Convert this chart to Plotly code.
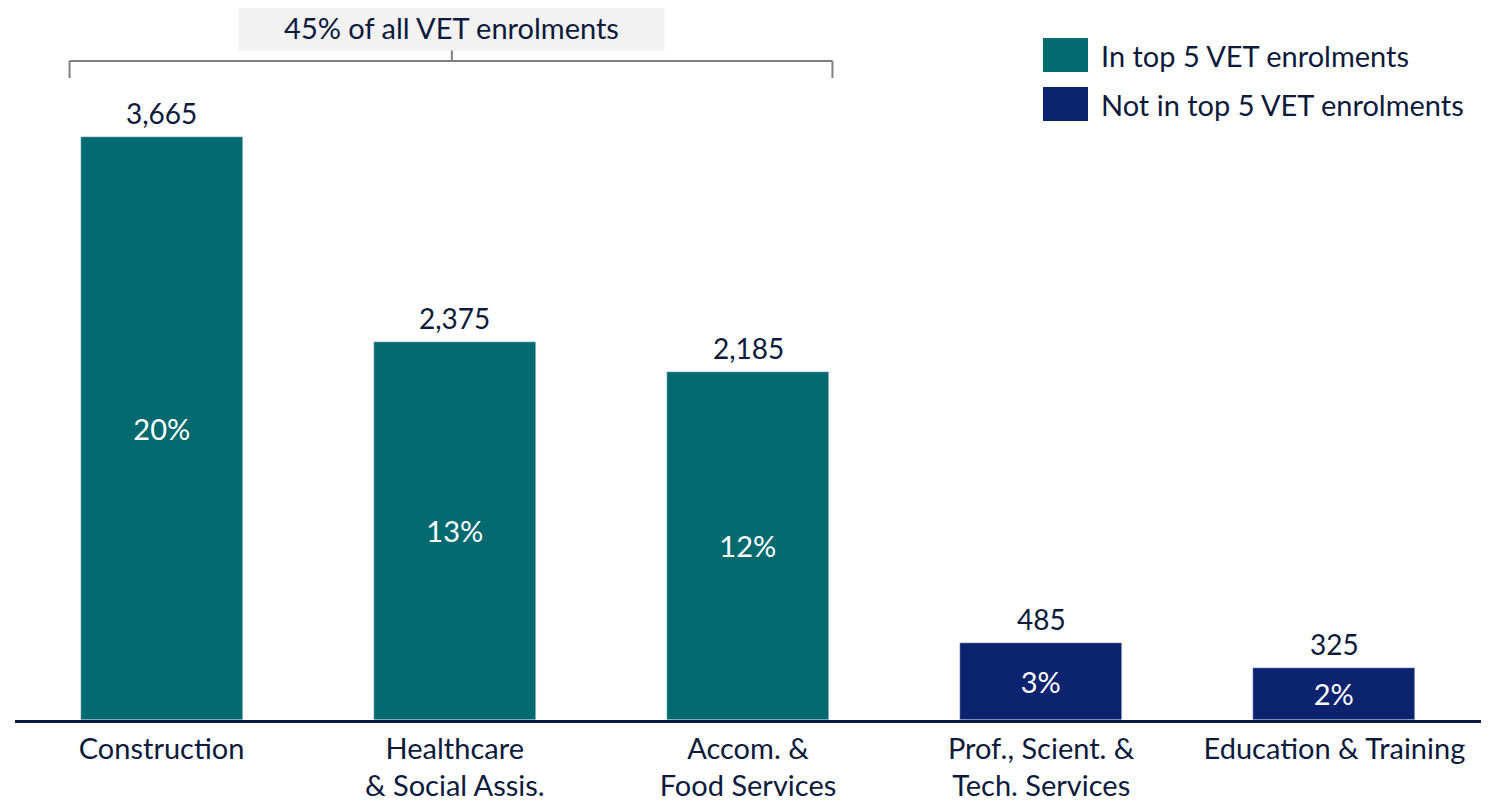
import plotly.graph_objects as go

# data
categories = ["Construction", "Healthcare<br>& Social Assis.", "Accom. &<br>Food Services",
              "Prof., Scient. &<br>Tech. Services", "Education & Training"]
enrolments = [3665, 2375, 2185, 485, 325]
shares = ["20%", "13%", "12%", "3%", "2%"]
in_top5 = [True, True, True, False, False]

TEAL = "#006A6F"
NAVY = "#0C236F"
TEXT = "#0C1A3C"
FONT = "Lato"
FS = 29

# page geometry (the html body adds an 8px margin)
OFF = 8
PLOT_L, PLOT_R, PLOT_T, PLOT_B = 15, 1481, 8, 720


def py(page_y):
    return 1 - (page_y - PLOT_T) / (PLOT_B - PLOT_T)


def px(page_x):
    return (page_x - PLOT_L) / (PLOT_R - PLOT_L)


colors = [TEAL if t else NAVY for t in in_top5]

fig = go.Figure()

fig.add_trace(go.Bar(
    x=categories,
    y=enrolments,
    marker_color=colors,
    width=0.553,
    text=shares,
    textposition="inside",
    insidetextanchor="middle",
    textangle=0,
    textfont=dict(color="white", size=FS, family=FONT),
    showlegend=False,
    hoverinfo="skip",
))

# value labels above each bar
for cat, val in zip(categories, enrolments):
    fig.add_annotation(x=cat, y=val, text=f"{val:,}", showarrow=False,
                       yanchor="bottom", yshift=5,
                       font=dict(size=FS - 1, color=TEXT, family=FONT))

# bracket over the top-5 bars
x_left, x_right, x_mid = -0.314, 2.288, 0.99
grey = dict(color="#7F7F7F", width=2)
shapes = [
    dict(type="line", xref="x", yref="paper", x0=x_left, x1=x_right, y0=py(61), y1=py(61), line=grey),
    dict(type="line", xref="x", yref="paper", x0=x_left, x1=x_left, y0=py(61), y1=py(78), line=grey),
    dict(type="line", xref="x", yref="paper", x0=x_right, x1=x_right, y0=py(61), y1=py(78), line=grey),
    dict(type="line", xref="x", yref="paper", x0=x_mid, x1=x_mid, y0=py(61), y1=py(50), line=grey),
]
fig.add_annotation(x=x_mid, xref="x", y=py(27.5), yref="paper", yanchor="middle",
                   text="45% of all VET enrolments", showarrow=False,
                   bgcolor="#F2F2F2", width=423, height=43,
                   font=dict(size=FS, color=TEXT, family=FONT))

# legend drawn by hand
legend = [("In top 5 VET enrolments", TEAL, 38), ("Not in top 5 VET enrolments", NAVY, 87)]
for label, col, top in legend:
    shapes.append(dict(type="rect", xref="paper", yref="paper",
                       x0=px(1043), x1=px(1088), y0=py(top), y1=py(top + 34),
                       fillcolor=col, line=dict(width=0)))
    fig.add_annotation(xref="paper", yref="paper", x=px(1099), y=py(top + 17),
                       xanchor="left", yanchor="middle", text=label, showarrow=False,
                       font=dict(size=FS, color=TEXT, family=FONT))

fig.update_layout(
    shapes=shapes,
    width=1493 - OFF, height=804 - OFF,
    margin=dict(l=PLOT_L - OFF, r=1493 - PLOT_R, t=PLOT_T - OFF, b=804 - PLOT_B),
    plot_bgcolor="white",
    paper_bgcolor="white",
    font=dict(family=FONT, color=TEXT),
    xaxis=dict(
        range=[-0.5, 4.5],
        showline=True, linecolor="#0A1540", linewidth=2.5,
        showgrid=False, ticks="",
        ticklabelstandoff=1,
        automargin=False,
        tickfont=dict(size=FS, color=TEXT, family=FONT),
    ),
    yaxis=dict(range=[0, (PLOT_B - PLOT_T) / 0.1591], visible=False, showgrid=False, zeroline=False),
    bargap=0,
)

fig.write_html("out.html")
